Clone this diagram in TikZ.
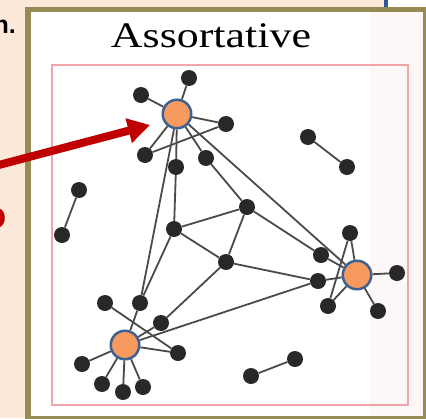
\documentclass[tikz,border=0pt]{standalone}
\usepackage{graphicx}
\usepackage{fontspec}
\setmainfont{Liberation Serif}
\newfontfamily\slidefont{Liberation Sans}
\usetikzlibrary{arrows.meta}

\pgfdeclarelayer{back}
\pgfdeclarelayer{wires}
\pgfsetlayers{back,wires,main}

\definecolor{peach}{HTML}{FDE9D9}
\definecolor{olive}{HTML}{968B55}
\definecolor{boxpink}{HTML}{F2A5A8}
\definecolor{pinktint}{HTML}{FDF8F7}
\definecolor{hubfill}{HTML}{F79A60}
\definecolor{hubline}{HTML}{3B6291}
\definecolor{dotgray}{HTML}{282828}
\definecolor{wiregray}{HTML}{4A4A4A}
\definecolor{arrowred}{HTML}{C00000}
\definecolor{slideblue}{HTML}{2F5597}

\tikzset{
  dot/.style={circle,fill=dotgray,inner sep=0pt,minimum size=16pt},
  hub/.style={circle,fill=hubfill,draw=hubline,line width=2.5pt,inner sep=0pt,minimum size=28.5pt},
  wire/.style={draw=wiregray,line width=1.8pt},
}

\begin{document}
\begin{tikzpicture}[x=1pt,y=-1pt]

      \useasboundingbox (0,0) rectangle (426,418);
      \clip (0,0) rectangle (426,418);

      \begin{pgfonlayer}{back}
        \fill[peach] (0,0) rectangle (426,418);
        \fill[white] (388,0) rectangle (426,7);
        \fill[slideblue] (384,0) rectangle (388,7);
        \fill[white] (28,9.5) rectangle (426,418.5);
        \fill[pinktint] (370,12) rectangle (423,416);
        \draw[olive,line width=5.5pt] (28,9.5) rectangle (426,418.5);
        \draw[boxpink,line width=1.8pt] (52,65) rectangle (408,405);
      \end{pgfonlayer}

      \node[anchor=base east,inner sep=0pt] (cutn) at (16,33)
        {\slidefont\bfseries\fontsize{25}{28}\selectfont n.};
      \node[anchor=base east,inner sep=0pt,text=arrowred] (cuto) at (6.5,228)
        {\slidefont\bfseries\fontsize{38}{40}\selectfont o};
      \node[anchor=base] (title) at (211,47)
        {\fontsize{36}{40}\selectfont\scalebox{1.22}[1]{Assortative}};

      \begin{scope}[every node/.style={hub}]
        \node (h1) at (177,114) {};
        \node (h2) at (125,345) {};
        \node (h3) at (357,275) {};
      \end{scope}

      \begin{scope}[every node/.style={dot}]
        \node (t1) at (189,78)  {};
        \node (t2) at (141,95)  {};
        \node (t3) at (226,124) {};
        \node (t4) at (145,155) {};
        \node (t5) at (176,167) {};
        \node (t6) at (206,158) {};
        \node (m1) at (247,207) {};
        \node (m2) at (174,229) {};
        \node (m3) at (226,262) {};
        \node (m4) at (140,303) {};
        \node (m5) at (161,323) {};
        \node (m6) at (105,303) {};
        \node (r1) at (321,255) {};
        \node (r2) at (318,281) {};
        \node (r3) at (350,233) {};
        \node (r4) at (397,273) {};
        \node (r5) at (378,311) {};
        \node (r6) at (328,306) {};
        \node (b1) at (82,364)  {};
        \node (b2) at (102,384) {};
        \node (b3) at (123,392) {};
        \node (b4) at (143,387) {};
        \node (b5) at (178,353) {};
        \node (p1) at (308,137) {};
        \node (p2) at (347,167) {};
        \node (q1) at (79,190)  {};
        \node (q2) at (62,235)  {};
        \node (s1) at (251,376) {};
        \node (s2) at (295,359) {};
      \end{scope}

      \begin{pgfonlayer}{wires}
        \begin{scope}[every edge/.style={wire}]
          \path (h1) edge (t1);
          \path (h1) edge (t2);
          \path (h1) edge (t3);
          \path (h1) edge (t4);
          \path (h1) edge (t5);
          \path (h1) edge (t6);
          \path (t4) edge (t3);
          \path (t6) edge (m1);
          \path (t5) edge (m2);
          \path (m2) edge (m1);
          \path (m2) edge (m3);
          \path (m1) edge (m3);
          \path (m1) edge (r1);
          \path (h1) edge (m4);
          \path (m2) edge (m4);
          \path (h1) edge (h3);
          \path (m3) edge (r2);
          \path (m3) edge (m5);
          \path (m4) edge (h2);
          \path (m5) edge (h2);
          \path (h2) edge (r2);
          \path (m6) edge (b5);
          \path (h2) edge (b5);
          \path (h2) edge (b1);
          \path (h2) edge (b2);
          \path (h2) edge (b3);
          \path (h2) edge (b4);
          \path (r1) edge (h3);
          \path (r2) edge (h3);
          \path (r3) edge (h3);
          \path (r3) edge (r6);
          \path (r6) edge (h3);
          \path (h3) edge (r4);
          \path (h3) edge (r5);
          \path (p1) edge (p2);
          \path (q1) edge (q2);
          \path (s1) edge (s2);
        \end{scope}
      \end{pgfonlayer}

      \coordinate (tail) at (-5,166);
      \coordinate (tip) at (150,125);
      \draw[arrowred,line width=8pt,-{Triangle[length=22pt,width=24pt]}] (tail) -- (tip);

    \end{tikzpicture}
\end{document}
